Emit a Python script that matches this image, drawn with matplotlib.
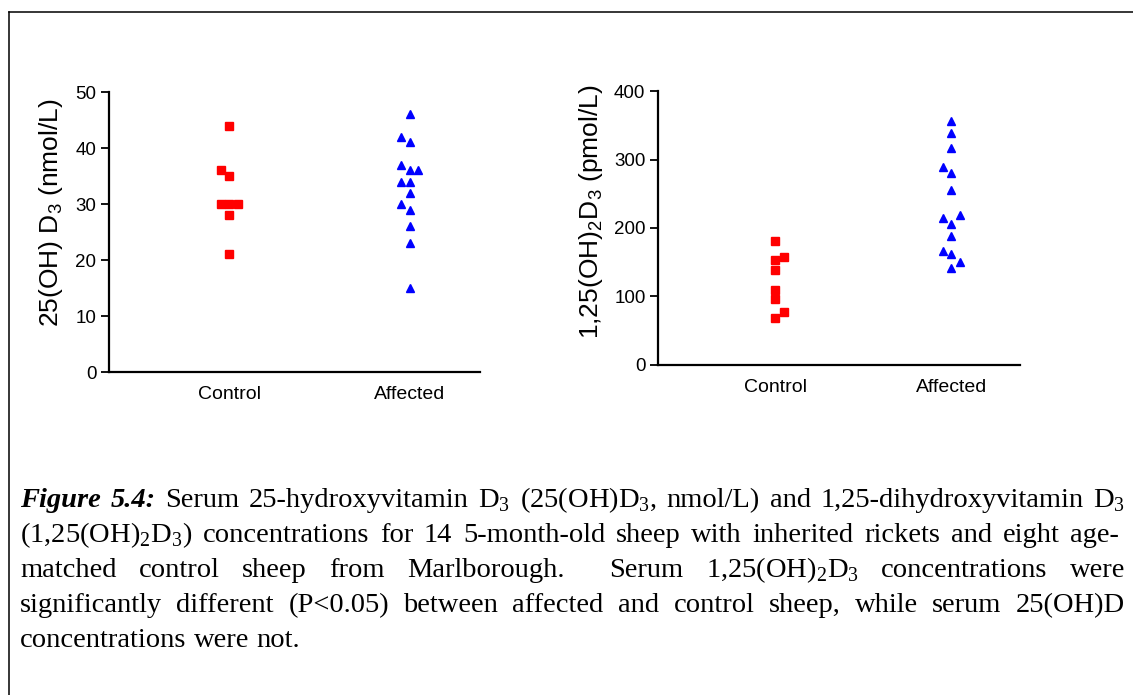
import matplotlib
matplotlib.use("Agg")
import matplotlib.pyplot as plt
from matplotlib.lines import Line2D

#data--------------------------------------------------------------------------
groups = ["Control", "Affected"]

# 25(OH)D3, nmol/L ; slot = -1 left, 0 centre, 1 right of the column
ohd_control = [44, 36, 35, 30, 30, 30, 28, 21]
ohd_control_slot = [0, -1, 0, -1, 0, 1, 0, 0]
ohd_affected = [46, 42, 41, 37, 36, 36, 34, 34, 32, 30, 29, 26, 23, 15]
ohd_affected_slot = [0, -1, 0, -1, 0, 1, -1, 0, 0, -1, 0, 0, 0, 0]

# 1,25(OH)2D3, pmol/L
dhd_control = [181, 153, 157, 139, 109, 96, 77, 68]
dhd_control_slot = [0, 0, 1, 0, 0, 0, 1, 0]
dhd_affected = [356, 339, 317, 289, 280, 255, 215, 219, 206, 189, 166, 162, 151, 142]
dhd_affected_slot = [0, 0, 0, -1, 0, 0, -1, 1, 0, 0, -1, 0, 1, 0]

caption_lines = [
    "Serum 25-hydroxyvitamin D$_\\mathregular{3}$ (25(OH)D$_\\mathregular{3}$, nmol/L) and 1,25-dihydroxyvitamin D$_\\mathregular{3}$",
    "(1,25(OH)$_\\mathregular{2}$D$_\\mathregular{3}$) concentrations for 14 5-month-old sheep with inherited rickets and eight age-",
    "matched control sheep from Marlborough.  Serum 1,25(OH)$_\\mathregular{2}$D$_\\mathregular{3}$ concentrations were",
    "significantly different (P<0.05) between affected and control sheep, while serum 25(OH)D",
    "concentrations were not.",
]

#figure------------------------------------------------------------------------
W, H = 1133, 695
fig = plt.figure(figsize=(W / 100, H / 100), dpi=100)
sans = "Liberation Sans"
serif = "Liberation Serif"
plt.rcParams["mathtext.fontset"] = "custom"

# page frame
fig.add_artist(Line2D([8.5 / W, 1], [1 - 11.5 / H, 1 - 11.5 / H], color="black", lw=1.1))
fig.add_artist(Line2D([8.5 / W, 8.5 / W], [0, 1 - 11.5 / H], color="black", lw=1.1))


def column_plot(ax, ctrl, ctrl_slot, aff, aff_slot, step, ylim, yticks, ylabel):
    ax.plot([1 + s * step for s in ctrl_slot], ctrl, "s", color="#ff0000",
            markersize=5.3, clip_on=False, zorder=3)
    ax.plot([2 + s * step for s in aff_slot], aff, "^", color="#0000ff",
            markersize=6.3, clip_on=False, zorder=3)
    ax.set_xlim(0.333, 2.39)
    ax.set_ylim(*ylim)
    ax.set_yticks(yticks)
    ax.set_xticks([1, 2])
    ax.set_xticklabels(groups, fontfamily=sans, fontsize=14)
    for lab in ax.get_yticklabels():
        lab.set_fontfamily(sans)
        lab.set_fontsize(13.5)
    ax.tick_params(axis="y", length=6, width=1.3, pad=3)
    ax.tick_params(axis="x", length=0, pad=10)
    for sp in ["top", "right"]:
        ax.spines[sp].set_visible(False)
    for sp in ["left", "bottom"]:
        ax.spines[sp].set_linewidth(1.6)
    ax.set_ylabel(ylabel, fontfamily=sans, fontsize=19)


ax1 = fig.add_axes([109 / W, 1 - 372 / H, 371 / W, 280 / H])
column_plot(ax1, ohd_control, ohd_control_slot, ohd_affected, ohd_affected_slot,
            0.046, (0, 50), [0, 10, 20, 30, 40, 50],
            "25(OH) D$_\\mathregular{3}$ (nmol/L)")
ax1.yaxis.set_label_coords(-0.119, 0.57)

ax2 = fig.add_axes([658 / W, 1 - 365 / H, 362 / W, 274 / H])
column_plot(ax2, dhd_control, dhd_control_slot, dhd_affected, dhd_affected_slot,
            0.047, (0, 400), [0, 100, 200, 300, 400],
            "1,25(OH)$_\\mathregular{2}$D$_\\mathregular{3}$ (pmol/L)")
ax2.yaxis.set_label_coords(-0.146, 0.56)

#caption, justified-------------------------------------------------------------
renderer = fig.canvas.get_renderer()
x_left, x_right = 20, 1125
baselines = [507, 542, 577, 612, 647]
cap_size = 20.5


def text_width(txt, kw):
    t = fig.text(0, 0, txt, fontsize=cap_size, **kw)
    w = t.get_window_extent(renderer).width
    t.remove()
    return w


def put_line(words, y, right):
    # words: list of (text, font kw, gap weight before the word)
    arts, widths = [], []
    for txt, kw, _ in words:
        t = fig.text(0, 1 - y / H, txt, fontsize=cap_size, va="baseline", **kw)
        arts.append(t)
        widths.append(t.get_window_extent(renderer).width)
    weights = [w for _, _, w in words[1:]]
    if right is not None:
        gap = (right - x_left - sum(widths)) / sum(weights)
    else:
        gap = text_width("a a", reg) - 2 * text_width("a", reg)
    x = x_left
    for i, t in enumerate(arts):
        t.set_x(x / W)
        x += widths[i]
        if i + 1 < len(arts):
            x += gap * weights[i]


def split_words(line, kw):
    out, w = [], 1
    for part in line.split(" "):
        if part == "":
            w += 1
            continue
        out.append((part, kw, w))
        w = 1
    return out


reg = dict(family=serif)
bold = dict(family=serif, fontweight="bold", fontstyle="italic")
rights = [x_right, 1119, x_right, x_right, None]
for i, line in enumerate(caption_lines):
    words = split_words(line, reg)
    if i == 0:
        words = [("Figure", bold, 1), ("5.4:", bold, 1)] + words
    put_line(words, baselines[i], rights[i])

fig.savefig("out.png", dpi=100)
